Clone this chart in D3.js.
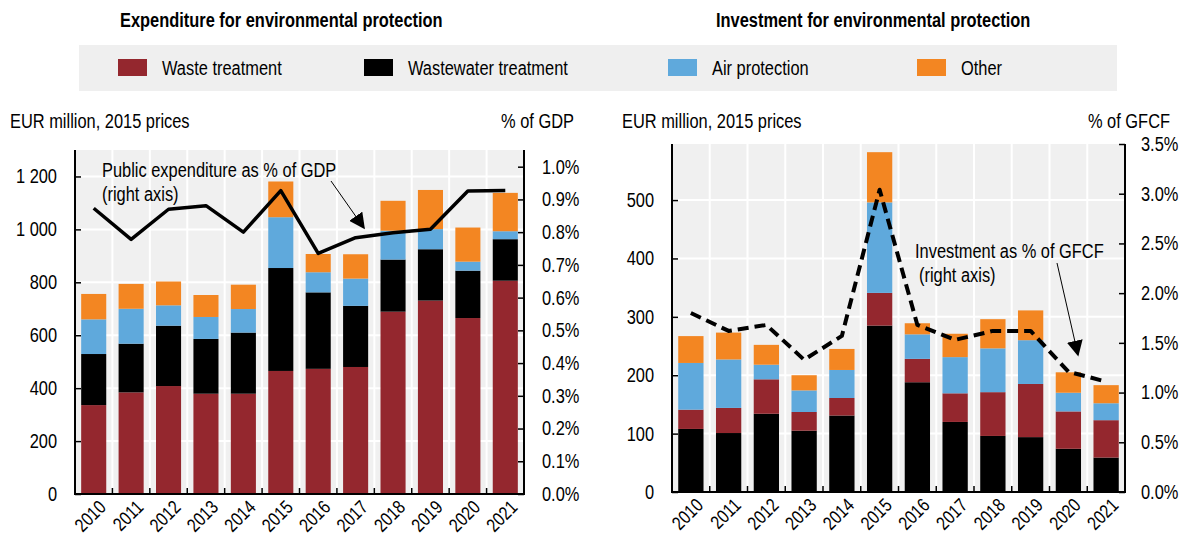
<!DOCTYPE html>
<html lang="en">
<head>
<meta charset="UTF-8">
<title>Environmental protection expenditure and investment</title>
<script src="https://d3js.org/d3.v7.min.js"></script>
<style>
    body { margin: 0; background: #fff; }
    svg { display: block; font-family: "Liberation Sans Narrow", "Arial Narrow", "Liberation Sans", Arial, sans-serif; }
    .axis text { font-size: 20px; fill: #000; }
    .axis path { stroke: #000; stroke-width: 2; }
    .axis line { stroke: #000; stroke-width: 1.5; }
    .lbl { font-size: 20px; fill: #000; }
    .xlab { font-size: 19px; fill: #000; }
    .title { font-size: 20px; font-weight: bold; fill: #000; }
</style>
</head>
<body>
<svg width="1183" height="537"></svg>
<script>
    const years = ["2010", "2011", "2012", "2013", "2014", "2015", "2016", "2017", "2018", "2019", "2020", "2021"];

    // Expenditure for environmental protection, EUR million 2015 prices
    const expWaste = [336, 384, 408, 379, 379, 465, 473, 480, 689, 731, 665, 806];
    const expWastewater = [193, 184, 228, 207, 231, 389, 289, 231, 197, 194, 179, 157];
    const expAir = [131, 132, 77, 83, 89, 192, 76, 103, 109, 76, 34, 30];
    const expOther = [96, 94, 90, 83, 92, 135, 69, 92, 113, 148, 129, 145];
    const expGdpShare = [0.873, 0.778, 0.870, 0.881, 0.800, 0.927, 0.735, 0.783, 0.798, 0.809, 0.926, 0.927];

    // Investment for environmental protection, EUR million 2015 prices
    const invWastewater = [108, 101, 134, 105, 131, 285, 188, 120, 96, 94, 74, 59];
    const invWaste = [33, 43, 59, 32, 30, 56, 40, 49, 75, 91, 64, 64];
    const invAir = [80, 83, 25, 37, 48, 155, 42, 62, 75, 75, 32, 29];
    const invOther = [46, 46, 34, 26, 36, 86, 19, 40, 50, 51, 35, 31];
    const invGfcfShare = [1.80, 1.62, 1.68, 1.33, 1.57, 3.04, 1.68, 1.53, 1.62, 1.62, 1.21, 1.11];

    const expTicks = [0, 200, 400, 600, 800, 1000, 1200];
    const gdpTicks = [0, 0.1, 0.2, 0.3, 0.4, 0.5, 0.6, 0.7, 0.8, 0.9, 1.0];
    const invTicks = [0, 100, 200, 300, 400, 500];
    const gfcfTicks = [0, 0.5, 1.0, 1.5, 2.0, 2.5, 3.0, 3.5];

    const colors = {
        "Waste treatment": "#94272e",
        "Wastewater treatment": "#000000",
        "Air protection": "#5fa9dc",
        "Other": "#f38622"
    };

    const svg = d3.select("svg");

    // titles
    svg.append("text").attr("class", "title").attr("x", 120).attr("y", 27)
        .text("Expenditure for environmental protection");
    svg.append("text").attr("class", "title").attr("x", 716).attr("y", 27)
        .text("Investment for environmental protection");

    // legend
    svg.append("rect").attr("x", 79).attr("y", 45).attr("width", 1038).attr("height", 46).attr("fill", "#efefef");
    const legendX = [118, 364, 668, 917];
    Object.keys(colors).forEach((k, i) => {
        svg.append("rect").attr("x", legendX[i]).attr("y", 59).attr("width", 29).attr("height", 17).attr("fill", colors[k]);
        svg.append("text").attr("class", "lbl").attr("x", legendX[i] + 44).attr("y", 75).text(k);
    });

    const fmtSpace = d => d3.format(",")(d).replace(/,/g, " ");
    const squeeze = 0.82; // no narrow font installed: regular sans squeezed to narrow width

    function drawPanel(p) {
        const g = svg.append("g");

        const x = d3.scaleBand().domain(years).range([p.x0, p.x1]).paddingInner(0.33).paddingOuter(0.165);
        const yL = d3.scaleLinear().domain([0, p.leftMax]).range([p.yBot, p.yTop]);
        const yR = d3.scaleLinear().domain([0, p.rightMax]).range([p.yBot, p.yTop]);

        // plot background and grid
        g.append("rect").attr("x", p.x0).attr("y", p.yTop).attr("width", p.x1 - p.x0).attr("height", p.yBot - p.yTop).attr("fill", "#f0f0f0");
        g.selectAll(".hgrid").data(p.leftTicks.filter(d => d > 0)).enter().append("line")
            .attr("x1", p.x0).attr("x2", p.x1).attr("y1", d => yL(d)).attr("y2", d => yL(d))
            .attr("stroke", "#fff").attr("stroke-width", 2);
        const step = x.step();
        const bounds = d3.range(1, years.length).map(i => p.x0 + i * step);
        g.selectAll(".vgrid").data(bounds).enter().append("line")
            .attr("x1", d => d).attr("x2", d => d).attr("y1", p.yTop).attr("y2", p.yBot)
            .attr("stroke", "#fff").attr("stroke-width", 2);

        // stacked bars
        const table = years.map((yr, i) => {
            const row = { year: yr };
            p.series.forEach(s => row[s.key] = s.values[i]);
            return row;
        });
        const stacked = d3.stack().keys(p.series.map(s => s.key))(table);
        g.selectAll(".layer").data(stacked).enter().append("g")
            .attr("fill", d => colors[d.key])
            .selectAll("rect").data(d => d).enter().append("rect")
            .attr("x", d => x(d.data.year))
            .attr("y", d => yL(d[1]))
            .attr("width", x.bandwidth())
            .attr("height", d => yL(d[0]) - yL(d[1]));

        // share line
        const line = d3.line().x((d, i) => x(years[i]) + x.bandwidth() / 2).y(d => yR(d));
        g.append("path").datum(p.share).attr("d", line)
            .attr("fill", "none").attr("stroke", "#000").attr("stroke-width", p.dashed ? 4 : 3.5)
            .attr("stroke-dasharray", p.dashed ? "11,6" : null)
            .attr("stroke-linejoin", "round");

        // axes
        g.append("g").attr("class", "axis").attr("transform", `translate(${p.x0},0)`)
            .call(d3.axisLeft(yL).tickValues(p.leftTicks).tickFormat(fmtSpace).tickSizeInner(-6).tickSizeOuter(0).tickPadding(18))
            .call(a => a.select(".domain").attr("d", `M0,${p.yBot}V${p.yTop}`));
        g.append("g").attr("class", "axis raxis").attr("transform", `translate(${p.x1},0)`)
            .call(d3.axisRight(yR).tickValues(p.rightTicks).tickFormat(d => d.toFixed(1) + "%").tickSizeInner(-6).tickSizeOuter(0).tickPadding(p.rightPad))
            .call(a => a.select(".domain").attr("d", `M0,${p.yBot}V${p.yTop}`))
            .call(a => a.selectAll("text").each(function () {
                // anchor at the end so the squeezed label keeps its left edge
                const w = this.getComputedTextLength();
                d3.select(this).attr("text-anchor", "end").attr("x", p.rightPad + w * squeeze);
            }));

        // bottom axis: ticks between bars, rotated year labels
        g.append("line").attr("x1", p.x0 - 1).attr("x2", p.x1 + 1).attr("y1", p.yBot).attr("y2", p.yBot)
            .attr("stroke", "#000").attr("stroke-width", 2);
        g.selectAll(".xtick").data(bounds).enter().append("line")
            .attr("x1", d => d).attr("x2", d => d).attr("y1", p.yBot).attr("y2", p.yBot - 6)
            .attr("stroke", "#000").attr("stroke-width", 1.5);
        g.selectAll(".xlab").data(years).enter().append("text")
            .attr("class", "xlab")
            .attr("text-anchor", "end")
            .attr("transform", d => `translate(${x(d) + x.bandwidth() / 2 + 4},${p.yBot + 5}) rotate(-45)`)
            .attr("dy", "0.7em")
            .text(d => d);

        // unit labels
        g.append("text").attr("class", "lbl").attr("x", p.unitLeftX).attr("y", 128).text("EUR million, 2015 prices");
        g.append("text").attr("class", "lbl").attr("x", p.unitRightX).attr("y", 128).attr("text-anchor", "end").text(p.rightUnit);

        // annotation
        p.note.forEach((t, i) => {
            g.append("text").attr("class", "lbl").attr("x", p.noteX + (i > 0 ? p.noteIndent : 0)).attr("y", p.noteY + i * 24).text(t);
        });
        g.append("line").attr("x1", p.arrow[0]).attr("y1", p.arrow[1]).attr("x2", p.arrow[2]).attr("y2", p.arrow[3])
            .attr("stroke", "#000").attr("stroke-width", 1).attr("marker-end", "url(#head)");
    }

    svg.append("defs").append("marker")
        .attr("id", "head").attr("viewBox", "0 0 10 10").attr("refX", 9).attr("refY", 5)
        .attr("markerWidth", 16).attr("markerHeight", 16).attr("markerUnits", "userSpaceOnUse")
        .attr("orient", "auto")
        .append("path").attr("d", "M0,0L10,5L0,10z").attr("fill", "#000");

    drawPanel({
        x0: 75, x1: 524, yTop: 150, yBot: 494,
        leftMax: 1300, rightMax: 1.051,
        leftTicks: expTicks, rightTicks: gdpTicks, rightPad: 18,
        series: [
            { key: "Waste treatment", values: expWaste },
            { key: "Wastewater treatment", values: expWastewater },
            { key: "Air protection", values: expAir },
            { key: "Other", values: expOther }
        ],
        share: expGdpShare, dashed: false,
        unitLeftX: 10, unitRightX: 574, rightUnit: "% of GDP",
        note: ["Public expenditure as % of GDP", "(right axis)"], noteX: 102, noteY: 177, noteIndent: 0,
        arrow: [331, 181, 364, 228]
    });

    drawPanel({
        x0: 672, x1: 1125, yTop: 144, yBot: 492,
        leftMax: 596, rightMax: 3.5,
        leftTicks: invTicks, rightTicks: gfcfTicks, rightPad: 16,
        series: [
            { key: "Wastewater treatment", values: invWastewater },
            { key: "Waste treatment", values: invWaste },
            { key: "Air protection", values: invAir },
            { key: "Other", values: invOther }
        ],
        share: invGfcfShare, dashed: true,
        unitLeftX: 622, unitRightX: 1170, rightUnit: "% of GFCF",
        note: ["Investment as % of GFCF", "(right axis)"], noteX: 915, noteY: 258, noteIndent: 4,
        arrow: [1057, 263, 1078, 355]
    });

    svg.selectAll("text").each(function () {
        const w = this.getComputedTextLength();
        d3.select(this).attr("textLength", w * squeeze).attr("lengthAdjust", "spacingAndGlyphs");
    });
</script>
</body>
</html>
